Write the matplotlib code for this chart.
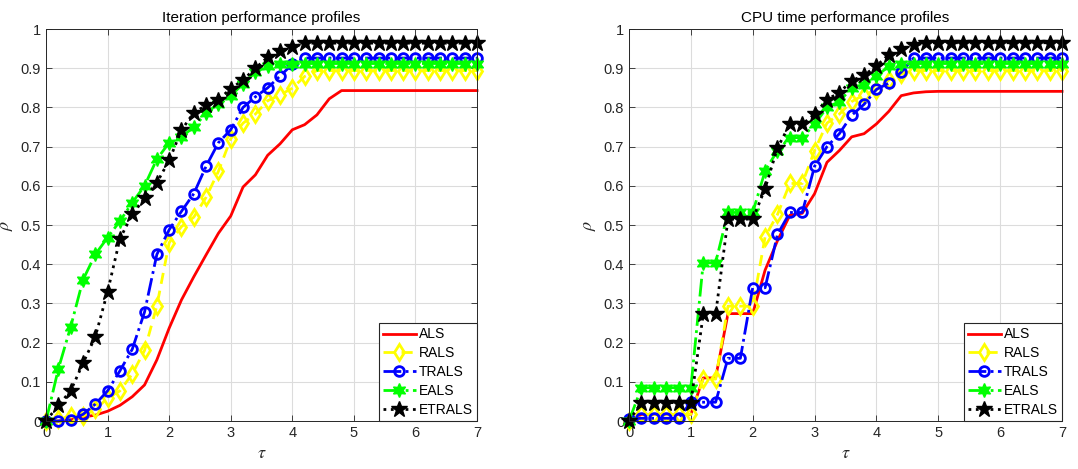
import matplotlib
matplotlib.use('Agg')
import matplotlib.pyplot as plt
import numpy as np

plt.rcParams['font.family'] = ['Liberation Sans', 'DejaVu Sans']
plt.rcParams['mathtext.fontset'] = 'stix'

# tau grid (0:0.2:7)
tau = np.round(np.arange(0, 7.01, 0.2), 1)

# Iteration performance profiles
it_als = [0, 0, 0.003, 0.01, 0.015, 0.025, 0.04, 0.062, 0.092, 0.156, 0.237, 0.309,
          0.368, 0.424, 0.479, 0.523, 0.597, 0.628, 0.678, 0.707, 0.743, 0.756, 0.781,
          0.822, 0.843] + [0.843] * 11
it_rals = [0, 0.005, 0.012, 0.012, 0.03, 0.058, 0.077, 0.12, 0.18, 0.294, 0.455, 0.496,
           0.52, 0.571, 0.637, 0.72, 0.76, 0.783, 0.817, 0.832, 0.849, 0.879, 0.894] + [0.894] * 13
it_trals = [0, 0, 0.003, 0.017, 0.043, 0.077, 0.128, 0.183, 0.278, 0.425, 0.488, 0.535,
            0.58, 0.65, 0.71, 0.743, 0.8, 0.827, 0.85, 0.88, 0.91] + [0.926] * 15
it_eals = [0, 0.133, 0.24, 0.36, 0.425, 0.468, 0.51, 0.557, 0.6, 0.668, 0.71, 0.725,
           0.75, 0.785, 0.81, 0.83, 0.86, 0.89, 0.905, 0.91] + [0.912] * 16
it_etrals = [0, 0.04, 0.077, 0.147, 0.215, 0.33, 0.465, 0.527, 0.568, 0.608, 0.665, 0.742,
             0.787, 0.805, 0.82, 0.848, 0.87, 0.9, 0.928, 0.943, 0.953] + [0.964] * 15

# CPU time performance profiles
cpu_als = [0] + [0.017] * 5 + [0.11, 0.11, 0.274, 0.274, 0.274, 0.385, 0.46, 0.525, 0.53,
           0.58, 0.66, 0.69, 0.725, 0.733, 0.758, 0.79, 0.83, 0.837, 0.84] + [0.841] * 11
cpu_rals = [0] + [0.017] * 5 + [0.107, 0.107, 0.293, 0.293, 0.293, 0.47, 0.527, 0.606, 0.606,
            0.69, 0.76, 0.783, 0.815, 0.832, 0.845, 0.87, 0.885] + [0.894] * 13
cpu_trals = [0.005] + [0.007] * 4 + [0.048, 0.048, 0.048, 0.16, 0.16, 0.34, 0.34, 0.476,
             0.532, 0.532, 0.65, 0.7, 0.733, 0.78, 0.808, 0.846, 0.862, 0.89] + [0.926] * 13
cpu_eals = [0] + [0.085] * 5 + [0.404, 0.404, 0.532, 0.532, 0.532, 0.638, 0.69, 0.723, 0.723,
            0.757, 0.8, 0.815, 0.85, 0.858, 0.88, 0.905, 0.91] + [0.912] * 13
cpu_etrals = [0] + [0.047] * 5 + [0.272, 0.272, 0.515, 0.515, 0.515, 0.593, 0.697, 0.757, 0.757,
              0.783, 0.82, 0.838, 0.868, 0.882, 0.906, 0.935, 0.948, 0.958] + [0.965] * 12

noms = ['ALS', 'RALS', 'TRALS', 'EALS', 'ETRALS']
gris = '#262626'

fig = plt.figure(figsize=(10.78, 4.69), dpi=100)
ax1 = fig.add_axes([0.0427, 0.1023, 0.3998, 0.8358])
ax2 = fig.add_axes([0.5835, 0.1023, 0.4017, 0.8358])


def tracer(ax, als, rals, trals, eals, etrals, titre):
    ax.plot(tau, als, '-', color='red', lw=2, label=noms[0], clip_on=False)
    ax.plot(tau, rals, '--', color='yellow', lw=2, marker='d', ms=8, mfc='none',
            mew=2, dashes=(4, 2.5), label=noms[1], clip_on=False)
    ax.plot(tau, trals, '-.', color='blue', lw=2, marker='o', ms=7, mfc='none',
            mew=2, label=noms[2], clip_on=False)
    ax.plot(tau, eals, '-.', color='#00ff00', lw=2, marker=(6, 1, 0), ms=10, mfc='#00ff00',
            mew=1, label=noms[3], clip_on=False)
    ax.plot(tau, etrals, ':', color='black', lw=2, marker='*', ms=12, mfc='black',
            mew=1, label=noms[4], clip_on=False)
    ax.set_xlim(0, 7)
    ax.set_ylim(0, 1)
    ax.set_xticks(range(8))
    ax.set_yticks(np.round(np.arange(0, 1.01, 0.1), 1))
    ax.set_yticklabels(['0', '0.1', '0.2', '0.3', '0.4', '0.5', '0.6', '0.7', '0.8', '0.9', '1'])
    ax.grid(True, color='#dcdcdc', lw=0.8)
    ax.set_axisbelow(True)
    ax.tick_params(direction='in', top=True, right=True, labelsize=10.5, colors=gris,
                   length=4, width=0.6)
    for s in ax.spines.values():
        s.set_color(gris)
        s.set_linewidth(0.7)
    ax.set_title(titre, fontsize=11, color='black', pad=5)
    ax.set_xlabel(r'$\tau$', fontsize=13, color=gris, labelpad=4)
    ax.set_ylabel(r'$\rho$', fontsize=13, color=gris, labelpad=4)
    leg = ax.legend(loc='lower right', fontsize=10, borderaxespad=0, fancybox=False,
                    framealpha=1, edgecolor=gris, handlelength=2.4, handletextpad=0.2,
                    labelspacing=0.35, borderpad=0.3)
    leg.get_frame().set_linewidth(0.8)
    leg.set_zorder(10)


tracer(ax1, it_als, it_rals, it_trals, it_eals, it_etrals, 'Iteration performance profiles')
tracer(ax2, cpu_als, cpu_rals, cpu_trals, cpu_eals, cpu_etrals, 'CPU time performance profiles')

fig.savefig('out.png', dpi=100)
